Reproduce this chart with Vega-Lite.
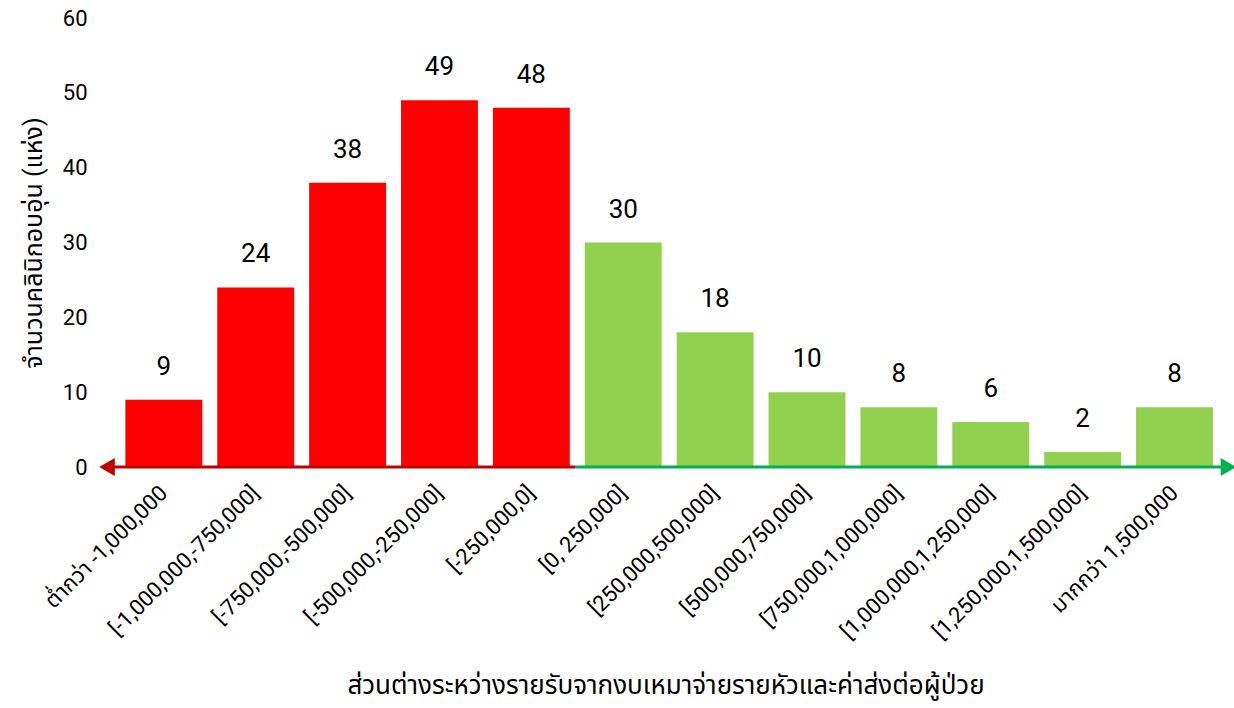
{
  "$schema": "https://vega.github.io/schema/vega-lite/v6.json",
  "width": 1117,
  "height": 449,
  "autosize": {"type": "none"},
  "padding": {"left": 107, "top": 18, "right": 10, "bottom": 241},
  "config": {
    "view": {"stroke": null},
    "font": "Roboto, Noto Sans Thai, Noto Sans, sans-serif",
    "axis": {"labelColor": "#000000", "titleColor": "#000000", "titleFontWeight": "normal"}
  },
  "data": {
    "values": [
      {"range": "ต่ำกว่า -1,000,000", "count": 9, "side": "ขาดทุน"},
      {"range": "[-1,000,000,-750,000]", "count": 24, "side": "ขาดทุน"},
      {"range": "[-750,000,-500,000]", "count": 38, "side": "ขาดทุน"},
      {"range": "[-500,000,-250,000]", "count": 49, "side": "ขาดทุน"},
      {"range": "[-250,000,0]", "count": 48, "side": "ขาดทุน"},
      {"range": "[0, 250,000]", "count": 30, "side": "กำไร"},
      {"range": "[250,000,500,000]", "count": 18, "side": "กำไร"},
      {"range": "[500,000,750,000]", "count": 10, "side": "กำไร"},
      {"range": "[750,000,1,000,000]", "count": 8, "side": "กำไร"},
      {"range": "[1,000,000,1,250,000]", "count": 6, "side": "กำไร"},
      {"range": "[1,250,000,1,500,000]", "count": 2, "side": "กำไร"},
      {"range": "มากกว่า 1,500,000", "count": 8, "side": "กำไร"}
    ]
  },
  "resolve": {"scale": {"x": "independent"}},
  "layer": [
    {
      "layer": [
        {
          "mark": {"type": "bar"},
          "encoding": {
            "color": {
              "field": "side",
              "type": "nominal",
              "scale": {"domain": ["ขาดทุน", "กำไร"], "range": ["#FF0000", "#92D050"]},
              "legend": null
            }
          }
        },
        {
          "mark": {"type": "text", "baseline": "alphabetic", "dy": -25, "fontSize": 26, "color": "#000000"},
          "encoding": {"text": {"field": "count", "type": "quantitative"}}
        }
      ],
      "encoding": {
        "x": {
          "field": "range",
          "type": "nominal",
          "sort": null,
          "scale": {"paddingInner": 0.163, "paddingOuter": 0.16, "align": 0.625},
          "axis": {
            "title": "ส่วนต่างระหว่างรายรับจากงบเหมาจ่ายรายหัวและค่าส่งต่อผู้ป่วย",
            "titleFontSize": 26,
            "titlePadding": 30,
            "labelAngle": -45,
            "labelAlign": "right",
            "labelBaseline": "middle",
            "labelFontSize": 22,
            "labelPadding": 22,
            "labelLimit": 400,
            "domain": false,
            "ticks": false
          }
        },
        "y": {
          "field": "count",
          "type": "quantitative",
          "scale": {"domain": [0, 60]},
          "axis": {
            "title": "จำนวนคลินิกอบอุ่น (แห่ง)",
            "titleFontSize": 25,
            "titlePadding": 16,
            "values": [0, 10, 20, 30, 40, 50, 60],
            "labelFontSize": 22,
            "labelPadding": 20,
            "grid": false,
            "domain": false,
            "ticks": false
          }
        }
      }
    },
    {
      "data": {"values": [{"side": "ขาดทุน"}]},
      "layer": [
        {
          "mark": {"type": "rule", "color": "#C00000", "strokeWidth": 3},
          "encoding": {
            "x": {"datum": 0, "type": "quantitative", "scale": {"domain": [0, 1]}, "axis": null},
            "x2": {"datum": 0.419},
            "y": {"datum": 0, "type": "quantitative"}
          }
        },
        {
          "mark": {"type": "point", "shape": "triangle-left", "size": 324, "filled": true, "opacity": 1, "color": "#C00000"},
          "encoding": {
            "x": {"datum": 0, "type": "quantitative", "scale": {"domain": [0, 1]}, "axis": null},
            "y": {"datum": 0, "type": "quantitative"}
          }
        },
        {
          "mark": {"type": "rule", "color": "#00B050", "strokeWidth": 3},
          "encoding": {
            "x": {"datum": 0.419, "type": "quantitative", "scale": {"domain": [0, 1]}, "axis": null},
            "x2": {"datum": 1.004},
            "y": {"datum": 0, "type": "quantitative"}
          }
        },
        {
          "mark": {"type": "point", "shape": "triangle-right", "size": 324, "filled": true, "opacity": 1, "color": "#00B050"},
          "encoding": {
            "x": {"datum": 1.004, "type": "quantitative", "scale": {"domain": [0, 1]}, "axis": null},
            "y": {"datum": 0, "type": "quantitative"}
          }
        }
      ]
    }
  ]
}
